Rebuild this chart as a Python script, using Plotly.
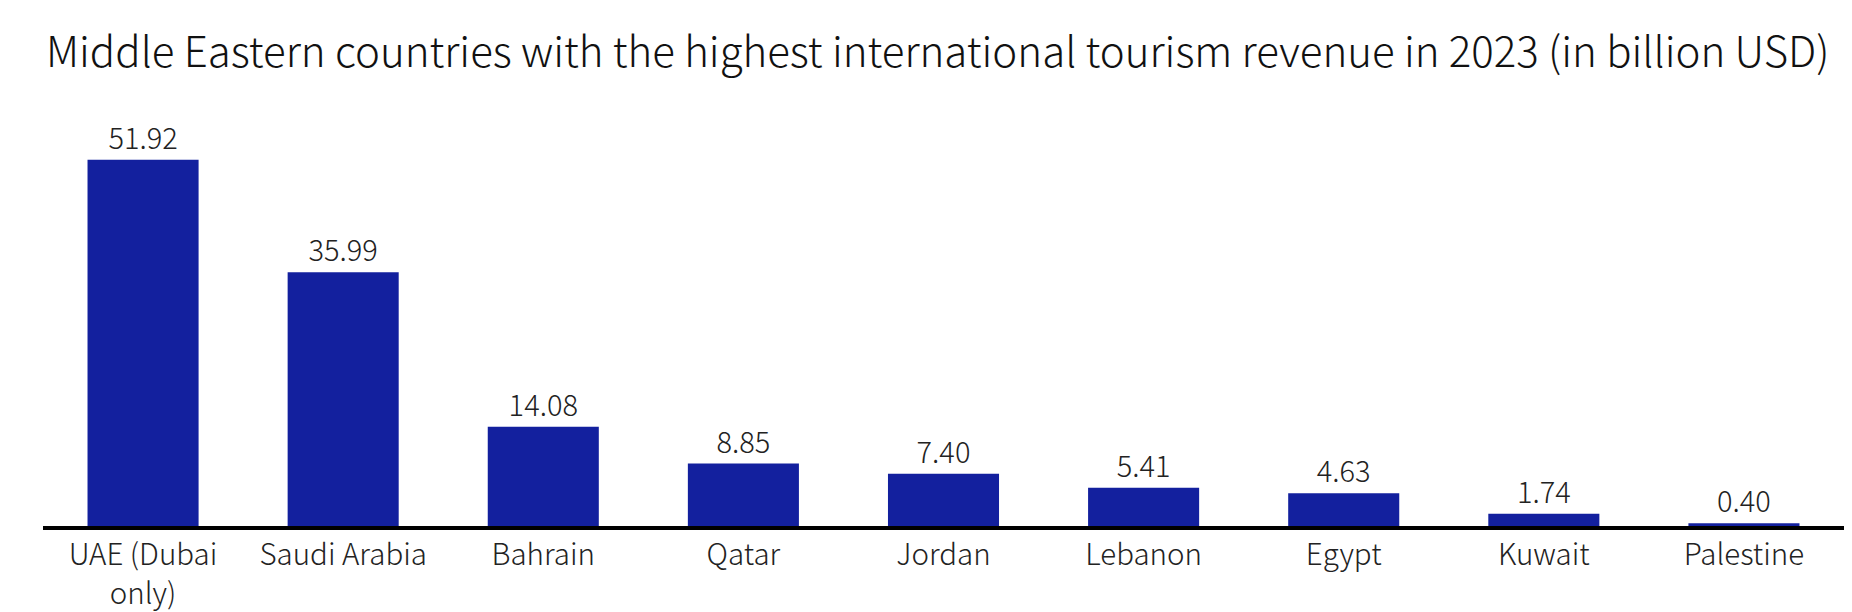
import plotly.graph_objects as go

countries = ["UAE (Dubai<br>only)", "Saudi Arabia", "Bahrain", "Qatar", "Jordan",
             "Lebanon", "Egypt", "Kuwait", "Palestine"]
revenue = [51.92, 35.99, 14.08, 8.85, 7.40, 5.41, 4.63, 1.74, 0.40]

FONT = "Noto Sans CJK SC"

fig = go.Figure()
fig.add_trace(go.Bar(
    x=countries,
    y=revenue,
    marker=dict(color="#13209E", line=dict(width=0)),
    text=[f"{v:.2f}" for v in revenue],
    textposition="outside",
    textfont=dict(family=FONT, size=29, color="#222222", weight=300),
    cliponaxis=False,
    constraintext="none",
))

fig.update_layout(
    width=1852, height=612,
    margin=dict(l=35, r=16, t=109, b=94),
    paper_bgcolor="white",
    plot_bgcolor="white",
    bargap=0.445,
    showlegend=False,
    title=dict(
        text="Middle Eastern countries with the highest international tourism revenue in 2023 (in billion USD)",
        x=38 / 1852, xanchor="left", xref="container",
        y=1 - 44 / 612, yanchor="middle", yref="container",
        font=dict(family=FONT, size=42, color="#111111", weight=300),
    ),
    xaxis=dict(
        showline=True, linecolor="black", linewidth=4,
        showgrid=False, ticks="", automargin=False,
        tickfont=dict(family=FONT, size=29.5, color="#222222", weight=300),
    ),
    yaxis=dict(visible=False, range=[0, 58], showgrid=False, zeroline=False,
               automargin=False),
)

fig.write_html("out.html")
